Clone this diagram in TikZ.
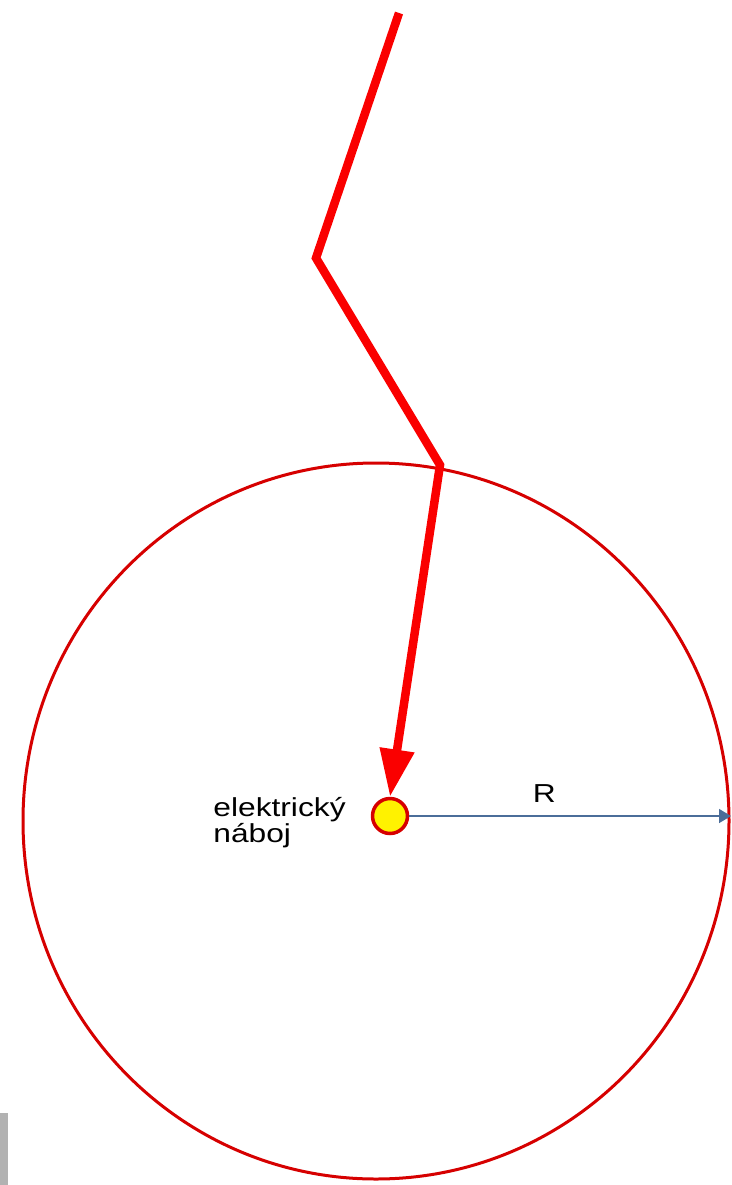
\documentclass[tikz,border=0pt]{standalone}
\usepackage{fontspec}
\setmainfont{Liberation Sans}
\usepackage{tikz}
\usetikzlibrary{arrows.meta}
\definecolor{boltred}{RGB}{250,0,0}
\definecolor{shellred}{RGB}{214,0,0}
\definecolor{radblue}{RGB}{52,101,164}
\tikzset
{
  bolt/.style={draw=boltred,line width=0.17cm,miter limit=10,-{Triangle[length=0.95cm,width=0.66cm]}},
  shell/.style={draw=shellred,line width=0.06cm},
  charge/.style={circle,draw=shellred,fill=yellow,line width=0.07cm,minimum size=0.7cm,inner sep=0pt},
  radius/.style={draw=radblue!70!gray,line width=0.03cm,-{Triangle[length=0.24cm,width=0.28cm]}},
  lbl/.style={font=\fontsize{14.8}{14.7}\selectfont,xscale=1.22,transform shape,inner sep=0pt}
}

\begin{document}
\begin{tikzpicture}[x=0.02cm,y=-0.02cm]
        \useasboundingbox (0,0) rectangle (731,1185);
        % Sphere
        \draw[shell] (376,821) ellipse [x radius=353,y radius=358];
        \fill[gray!60] (0,1113) rectangle (8,1185);

        % Charge and radius
        \node[charge] (q) at (390,816) {};
        \coordinate (rim) at (731,816);
        \draw[radius] (q.east) -- (rim) node[pos=0.42,above=0.26cm,lbl] (R) {R};
        \node[lbl,anchor=base west,align=left] (lab) at (213,842) {elektrický\\náboj};

        % Lightning strike
        \coordinate (top) at (399,13);
        \coordinate (bend) at (316,258);
        \coordinate (hit) at (440,465);
        \draw[bolt] (top) -- (bend) -- (hit) -- (q.north);
    \end{tikzpicture}
\end{document}
